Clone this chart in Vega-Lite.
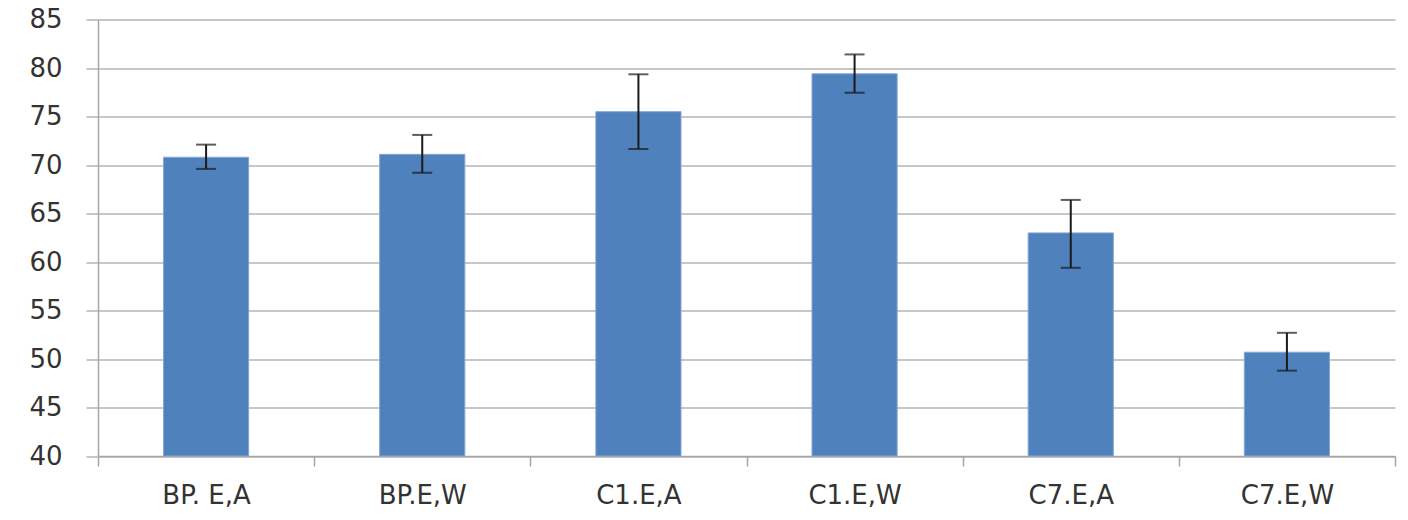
{
  "$schema": "https://vega.github.io/schema/vega-lite/v6.json",
  "width": 1297,
  "height": 436.5,
  "autosize": {"type": "none"},
  "padding": {"left": 98, "top": 19.5, "right": 13, "bottom": 64},
  "background": "white",
  "config": {
    "view": {"stroke": null},
    "axis": {"labelFont": "DejaVu Sans", "labelColor": "#333333", "labelFontSize": 26}
  },
  "data": {
    "values": [
      {"category": "BP. E,A", "value": 70.8, "lo": 69.6, "hi": 72.1},
      {"category": "BP.E,W", "value": 71.1, "lo": 69.2, "hi": 73.1},
      {"category": "C1.E,A", "value": 75.5, "lo": 71.65, "hi": 79.35},
      {"category": "C1.E,W", "value": 79.4, "lo": 77.45, "hi": 81.4},
      {"category": "C7.E,A", "value": 63.0, "lo": 59.4, "hi": 66.4},
      {"category": "C7.E,W", "value": 50.7, "lo": 48.8, "hi": 52.7}
    ]
  },
  "encoding": {
    "x": {
      "field": "category",
      "type": "nominal",
      "sort": null,
      "scale": {"paddingInner": 0, "paddingOuter": 0},
      "axis": {
        "title": null,
        "labelAngle": 0,
        "domainColor": "#a6a6a6",
        "domainWidth": 1.5,
        "tickColor": "#a6a6a6",
        "tickWidth": 1.5,
        "tickSize": 10,
        "tickBand": "extent",
        "labelPadding": 16,
        "labelBaseline": "top",
        "grid": false
      }
    }
  },
  "layer": [
    {
      "mark": {"type": "bar", "color": "#4f81bd", "stroke": "#85a7d4", "strokeWidth": 1, "width": {"band": 0.394}},
      "encoding": {
        "y": {
          "field": "value",
          "type": "quantitative",
          "scale": {"domain": [40, 85], "zero": false, "nice": false},
          "axis": {
            "title": null,
            "values": [40, 45, 50, 55, 60, 65, 70, 75, 80, 85],
            "grid": true,
            "gridColor": "#b4b4b4",
            "gridWidth": 1.5,
            "domainColor": "#a6a6a6",
            "domainWidth": 1.5,
            "tickColor": "#b4b4b4",
            "tickWidth": 1.5,
            "tickSize": 12,
            "labelPadding": 24
          }
        },
        "y2": {"datum": 40}
      }
    },
    {
      "mark": {"type": "rule", "color": "#1a1a1a", "strokeWidth": 2},
      "encoding": {
        "y": {"field": "lo", "type": "quantitative"},
        "y2": {"field": "hi"}
      }
    },
    {
      "mark": {"type": "tick", "color": "#1a1a1a", "size": 20, "thickness": 2, "orient": "horizontal"},
      "encoding": {
        "y": {"field": "lo", "type": "quantitative"}
      }
    },
    {
      "mark": {"type": "tick", "color": "#1a1a1a", "size": 20, "thickness": 2, "orient": "horizontal"},
      "encoding": {
        "y": {"field": "hi", "type": "quantitative"}
      }
    }
  ]
}
